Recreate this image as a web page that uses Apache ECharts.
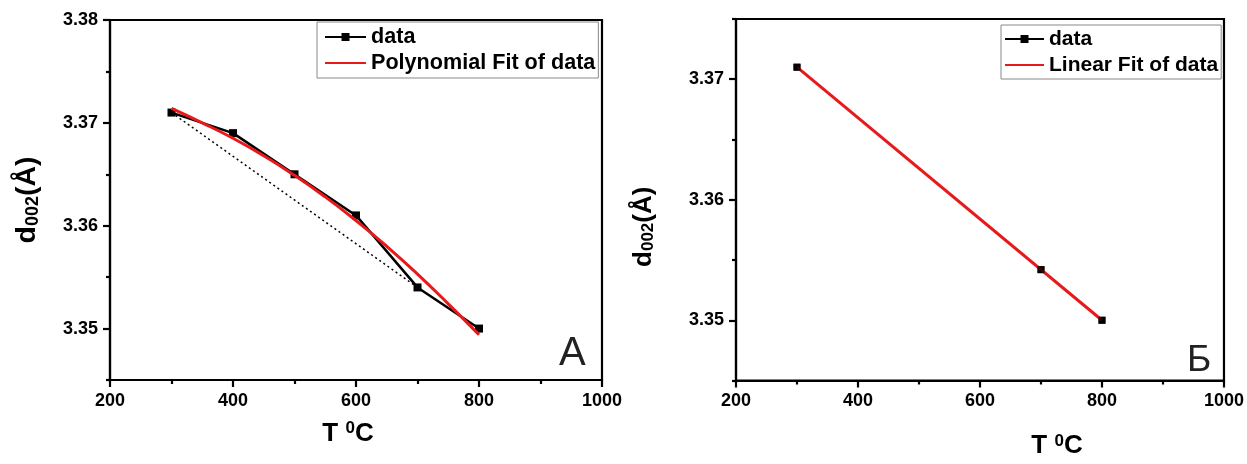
<!DOCTYPE html>
<html><head><meta charset="utf-8">
<script src="https://cdn.jsdelivr.net/npm/echarts@6/dist/echarts.min.js"></script>
<style>html,body{margin:0;padding:0;background:#fff}#c{width:1247px;height:464px}</style>
</head><body><div id="c"></div>
<script>
// ---- Data ----
const tempA = [300, 400, 500, 600, 700, 800];
const dA = [3.371, 3.369, 3.365, 3.361, 3.354, 3.350];
const fitTempA = [300, 350, 400, 450, 500, 550, 600, 650, 700, 750, 800];
const fitA = [3.3714, 3.3700, 3.3685, 3.3668, 3.3649, 3.3628, 3.3605, 3.3580, 3.3553, 3.3524, 3.3494];
const dotTempA = [300, 700];
const dotA = [3.371, 3.354];

const tempB = [300, 700, 800];
const dB = [3.371, 3.3542, 3.350];
const fitTempB = [300, 800];
const fitB = [3.3710, 3.3500];

const yMajorA = [3.35, 3.36, 3.37, 3.38];
const yMinorA = [3.345, 3.355, 3.365, 3.375];
const yMajorB = [3.35, 3.36, 3.37];
const yMinorB = [3.345, 3.355, 3.365, 3.375];

const legendA = ['data', 'Polynomial Fit of data'];
const legendB = ['data ', 'Linear Fit of data'];
const panelA = 'A';
const panelB = 'Б';

const pairs = (xs, ys) => xs.map((x, i) => [x, ys[i]]);
const FF = '"Liberation Sans", Arial, sans-serif';
const RED = '#e8191b';
const LW = 2.2;

function xAxisOf(grid, gap, pad) {
  return {
    type: 'value', gridIndex: grid, min: 200, max: 1000, interval: 200,
    axisLine: {show: true, lineStyle: {color: '#000', width: LW}},
    axisTick: {show: true, length: 7, lineStyle: {color: '#000', width: LW}},
    minorTick: {show: true, splitNumber: 2, length: 4, lineStyle: {color: '#000', width: LW}},
    splitLine: {show: false}, minorSplitLine: {show: false},
    axisLabel: {color: '#000', fontFamily: FF, fontWeight: 'bold', fontSize: 18, margin: 12,
      formatter: v => String(v)},
    name: 'T {sup|0}C', nameLocation: 'middle', nameGap: gap,
    nameTextStyle: {color: '#000', fontFamily: FF, fontWeight: 'bold', fontSize: 26, padding: pad,
      rich: {sup: {fontFamily: FF, fontWeight: 'bold', fontSize: 17, verticalAlign: 'top', padding: [0, 0, 10, 0]}}}
  };
}
function yAxisMajor(grid, min, max, majors, gap, pad, fs, sfs) {
  return {
    type: 'value', gridIndex: grid, min: min, max: max, position: 'left',
    axisLine: {show: true, lineStyle: {color: '#000', width: LW}},
    axisTick: {show: true, length: 7, customValues: majors, lineStyle: {color: '#000', width: LW}},
    axisLabel: {color: '#000', fontFamily: FF, fontWeight: 'bold', fontSize: 18, margin: 12,
      customValues: majors, formatter: v => Number(v).toFixed(2)},
    splitLine: {show: false},
    name: 'd{sub|002}(Å)', nameLocation: 'middle', nameGap: gap, nameRotate: 90,
    nameTextStyle: {color: '#000', fontFamily: FF, fontWeight: 'bold', fontSize: fs, padding: pad,
      rich: {sub: {fontFamily: FF, fontWeight: 'bold', fontSize: sfs, verticalAlign: 'bottom', padding: [6, 0, 0, 0]}}}
  };
}
function yAxisMinor(grid, min, max, minors) {
  return {
    type: 'value', gridIndex: grid, min: min, max: max, position: 'left', offset: 0,
    axisLine: {show: false},
    axisTick: {show: true, length: 4, customValues: minors, lineStyle: {color: '#000', width: LW}},
    axisLabel: {show: false}, splitLine: {show: false}
  };
}
const noSym = {color: 'rgba(0,0,0,0)', borderColor: 'rgba(0,0,0,0)', borderWidth: 0};

const option = {
  animation: false,
  backgroundColor: '#fff',
  grid: [
    {left: 110, top: 20, width: 492, height: 360, show: true, borderColor: '#000', borderWidth: LW},
    {left: 736, top: 19, width: 489, height: 364, show: true, borderColor: '#000', borderWidth: LW}
  ],
  legend: [
    {data: [{name: legendA[0]}, {name: legendA[1], itemStyle: noSym}],
      orient: 'vertical', left: 317, top: 22, itemWidth: 41, itemHeight: 10, itemGap: 4,
      padding: [4, 3, 4, 7], borderColor: '#888', borderWidth: 1, backgroundColor: '#fff',
      textStyle: {color: '#000', fontFamily: FF, fontWeight: 'bold', fontSize: 21.6, lineHeight: 22}},
    {data: [{name: legendB[0]}, {name: legendB[1], itemStyle: noSym}],
      orient: 'vertical', left: 1001, top: 25, itemWidth: 39, itemHeight: 10, itemGap: 4,
      padding: [3, 3, 3, 3], borderColor: '#888', borderWidth: 1, backgroundColor: '#fff',
      textStyle: {color: '#000', fontFamily: FF, fontWeight: 'bold', fontSize: 21, lineHeight: 22}}
  ],
  xAxis: [xAxisOf(0, 40, [0, 16, 0, 0]), xAxisOf(1, 52, [0, 0, 0, 154])],
  yAxis: [
    yAxisMajor(0, 3.345, 3.38, yMajorA, 68, [0, 0, 0, 0], 28.5, 18),
    yAxisMinor(0, 3.345, 3.38, yMinorA),
    yAxisMajor(1, 3.345, 3.375, yMajorB, 79, [0, 54, 0, 0], 26, 17),
    yAxisMinor(1, 3.345, 3.375, yMinorB)
  ],
  series: [
    {name: '', type: 'line', xAxisIndex: 0, yAxisIndex: 0, data: pairs(dotTempA, dotA), symbol: 'none',
      lineStyle: {color: '#000', width: 1.5, type: [2, 3]}, z: 1, silent: true},
    {name: legendA[0], type: 'line', xAxisIndex: 0, yAxisIndex: 0, data: pairs(tempA, dA),
      symbol: 'rect', symbolSize: 8, itemStyle: {color: '#000'}, lineStyle: {color: '#000', width: 2.5}, z: 2},
    {name: legendA[1], type: 'line', xAxisIndex: 0, yAxisIndex: 0, data: pairs(fitTempA, fitA),
      symbol: 'none', smooth: true, itemStyle: {color: RED}, lineStyle: {color: RED, width: 3}, z: 3},
    {name: legendB[0], type: 'line', xAxisIndex: 1, yAxisIndex: 2, data: pairs(tempB, dB),
      symbol: 'rect', symbolSize: 7, itemStyle: {color: '#000'}, lineStyle: {color: '#000', width: 1}, z: 2},
    {name: legendB[1], type: 'line', xAxisIndex: 1, yAxisIndex: 2, data: pairs(fitTempB, fitB),
      symbol: 'none', itemStyle: {color: RED}, lineStyle: {color: RED, width: 3}, z: 3},
    {name: 'marks', type: 'scatter', xAxisIndex: 1, yAxisIndex: 2, data: pairs(tempB, dB),
      symbol: 'rect', symbolSize: 7, itemStyle: {color: '#000'}, z: 4, silent: true}
  ],
  graphic: [
    {type: 'text', left: 559, top: 334, style: {text: panelA, font: '40px ' + FF, fill: '#222'}},
    {type: 'text', left: 1187, top: 342, style: {text: panelB, font: '37px ' + FF, fill: '#222'}}
  ]
};
const chart = echarts.init(document.getElementById('c'), null, {renderer: 'canvas'});
chart.setOption(option);
</script></body></html>
